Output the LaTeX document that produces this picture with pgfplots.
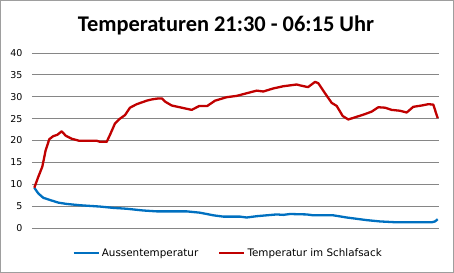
\documentclass[border=0pt]{standalone}
\usepackage{pgfplots}
\pgfplotsset{compat=1.18}
\usepackage{fontspec}
\setmainfont{DejaVu Sans}
\newfontfamily\titlefont{Carlito}
\definecolor{sblue}{RGB}{0,112,192}
\definecolor{sred}{RGB}{192,0,0}
\definecolor{gridgray}{RGB}{134,134,134}
\begin{document}
\begin{tikzpicture}
\useasboundingbox (-32bp,-45bp) rectangle (422bp,228bp);
\draw[gridgray!80,line width=1bp] (-31.5bp,-44.5bp) rectangle (421.5bp,227.5bp);
\node[anchor=base,font=\titlefont\bfseries\fontsize{22.5}{26}\selectfont] at (194bp,196bp) {Temperaturen 21:30 - 06:15 Uhr};
\begin{axis}[
  at={(0,0)}, anchor=south west,
  scale only axis, width=407bp, height=175bp,
  xmin=32, xmax=439, ymin=0, ymax=40,
  ytick={0,5,...,40}, xtick=\empty,
  axis line style={draw=none},
  major tick length=0,
  ymajorgrids, grid style={gridgray, line width=0.9bp},
  /pgf/number format/assume math mode=true,
  yticklabel style={font=\fontsize{9.5}{11}\selectfont, anchor=east, xshift=-6bp},
  legend columns=2,
  legend style={at={(0.482,-0.143)}, anchor=center, draw=none, fill=none,
    font=\fontsize{10.4}{12}\selectfont,
    /tikz/every even column/.append style={column sep=18bp}},
  legend image code/.code={\draw[#1] (0bp,0bp) -- (25bp,0bp);},
]
\addplot[sblue, line width=2.3bp, line join=round] coordinates {
(34.3,9.2) (38.3,7.9) (43.3,6.9) (50,6.4) (58.3,5.8) (66.7,5.5) (80,5.2) (100,4.9)
(113.3,4.6) (126.7,4.4) (143.3,4.0) (156.7,3.8) (186.7,3.8) (200,3.5) (213.3,2.9)
(223.3,2.6) (240,2.6) (246.7,2.4) (256.7,2.7) (266.7,2.9) (276.7,3.1) (283.3,3.0)
(290,3.2) (306.7,3.1) (313.3,2.9) (333.3,2.9) (346.7,2.4) (366.7,1.8) (380,1.5)
(396.7,1.3) (431.7,1.3) (435,1.5) (437.7,2.0)
};
\addlegendentry{Aussentemperatur}
\addplot[sred, line width=2.3bp, line join=round] coordinates {
(34.3,9.2) (38.3,11.7) (42.3,14.0) (45.7,17.8) (49.3,20.3) (53.3,21.0) (57.3,21.3)
(61.7,22.1) (65.7,21.1) (71.7,20.4) (79,19.95) (96.7,19.95) (100,19.7) (106.7,19.7)
(110,21.3) (115,23.9) (120,25) (125,25.8) (130,27.5) (136.7,28.3) (146.7,29.1)
(152,29.4) (158,29.6) (162,29.6) (165,28.9) (171.7,28.0) (181.7,27.5) (191.7,27.0)
(199.3,27.9) (207.3,27.9) (215,29.1) (226.7,29.9) (236.7,30.2) (246.7,30.8)
(256.7,31.4) (263.3,31.2) (273.3,31.9) (283.3,32.4) (296.7,32.8) (300,32.6)
(308,32.2) (315,33.4) (318.3,33.1) (325,30.8) (331.7,28.6) (336.7,27.9) (342.7,25.6)
(348.3,24.8) (355,25.3) (363.3,25.9) (371.7,26.6) (378.3,27.6) (385,27.5) (391.7,27.0)
(400,26.8) (406.7,26.4) (413.3,27.7) (421.7,28.0) (428.3,28.3) (433.3,28.2) (437.7,25.1)
};
\addlegendentry{Temperatur im Schlafsack}
\end{axis}
\end{tikzpicture}
\end{document}
